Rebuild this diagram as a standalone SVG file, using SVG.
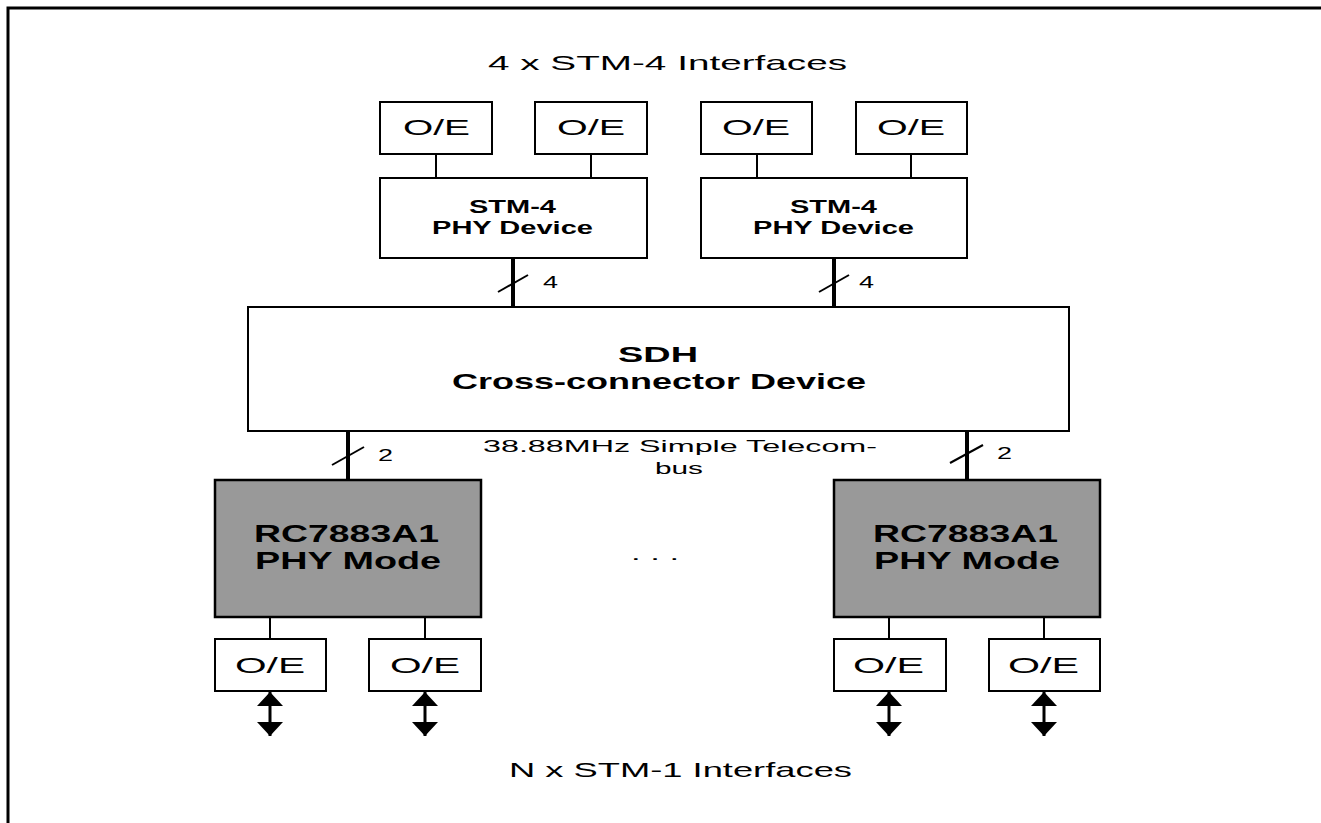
<svg xmlns="http://www.w3.org/2000/svg" width="1321" height="823" viewBox="0 0 1321 823">
<style>
text{font-family:"Liberation Sans",Arial,sans-serif;fill:#000}
.box{fill:#fff;stroke:#000;stroke-width:2}
.chip{fill:#999;stroke:#000;stroke-width:2.5}
.oe{font-size:22px}
.b{font-weight:bold}
.conn{stroke:#000;stroke-width:2;fill:none}
.bus{stroke:#000;stroke-width:4;fill:none}
.lbl{font-size:16px}
.io{stroke:#000;stroke-width:3;fill:none;marker-start:url(#ah);marker-end:url(#ah)}
</style>
<defs>
<marker id="ah" markerUnits="userSpaceOnUse" markerWidth="14" markerHeight="26" viewBox="0 0 14 26" refX="14" refY="13" orient="auto-start-reverse">
<path d="M0,0 L14,13 L0,26 z" fill="#000"/>
</marker>
</defs>
<rect width="1321" height="823" fill="#fff"/>
<path d="M8,823 V8 H1321" fill="none" stroke="#000" stroke-width="3"/>

<text x="488" y="70" font-size="21" textLength="359" lengthAdjust="spacingAndGlyphs">4 x STM-4 Interfaces</text>
<text x="509" y="777" font-size="21" textLength="343" lengthAdjust="spacingAndGlyphs">N x STM-1 Interfaces</text>

<g id="connectors">
<line class="conn" x1="436" y1="154" x2="436" y2="178"/>
<line class="conn" x1="591" y1="154" x2="591" y2="178"/>
<line class="conn" x1="757" y1="154" x2="757" y2="178"/>
<line class="conn" x1="911" y1="154" x2="911" y2="178"/>
<line class="bus" x1="513" y1="258" x2="513" y2="307"/>
<line class="conn" x1="498" y1="292" x2="528" y2="275"/>
<text class="lbl" x="543" y="288" textLength="15" lengthAdjust="spacingAndGlyphs">4</text>
<line class="bus" x1="834" y1="258" x2="834" y2="307"/>
<line class="conn" x1="819" y1="292" x2="849" y2="275"/>
<text class="lbl" x="859" y="288" textLength="15" lengthAdjust="spacingAndGlyphs">4</text>
<line class="bus" x1="348" y1="431" x2="348" y2="480"/>
<line class="conn" x1="332" y1="465" x2="364" y2="447"/>
<text class="lbl" x="378" y="461" textLength="15" lengthAdjust="spacingAndGlyphs">2</text>
<line class="bus" x1="967" y1="431" x2="967" y2="480"/>
<line class="conn" x1="950" y1="463" x2="983" y2="445"/>
<text class="lbl" x="997" y="459" textLength="15" lengthAdjust="spacingAndGlyphs">2</text>
<text x="483" y="452" font-size="17" textLength="394" lengthAdjust="spacingAndGlyphs">38.88MHz  Simple Telecom-</text>
<text x="655" y="474" font-size="17" textLength="48" lengthAdjust="spacingAndGlyphs">bus</text>
<line class="conn" x1="270" y1="617" x2="270" y2="639"/>
<line class="conn" x1="425" y1="617" x2="425" y2="639"/>
<line class="conn" x1="889" y1="617" x2="889" y2="639"/>
<line class="conn" x1="1044" y1="617" x2="1044" y2="639"/>
<line class="io" x1="270" y1="692" x2="270" y2="736"/>
<line class="io" x1="425" y1="692" x2="425" y2="736"/>
<line class="io" x1="889" y1="692" x2="889" y2="736"/>
<line class="io" x1="1044" y1="692" x2="1044" y2="736"/>
</g>

<g id="oe-top-1"><rect class="box" x="380" y="102" width="112" height="52"/><text class="oe" x="403" y="135" textLength="67" lengthAdjust="spacingAndGlyphs">O/E</text></g>
<g id="oe-top-2"><rect class="box" x="535" y="102" width="112" height="52"/><text class="oe" x="557" y="135" textLength="68" lengthAdjust="spacingAndGlyphs">O/E</text></g>
<g id="oe-top-3"><rect class="box" x="701" y="102" width="111" height="52"/><text class="oe" x="722" y="135" textLength="68" lengthAdjust="spacingAndGlyphs">O/E</text></g>
<g id="oe-top-4"><rect class="box" x="856" y="102" width="111" height="52"/><text class="oe" x="877" y="135" textLength="68" lengthAdjust="spacingAndGlyphs">O/E</text></g>

<g id="stm4-phy-1"><rect class="box" x="380" y="178" width="267" height="80"/>
<text class="b" x="469" y="213" font-size="18.5" textLength="87" lengthAdjust="spacingAndGlyphs">STM-4</text>
<text class="b" x="432" y="234" font-size="18.5" textLength="161" lengthAdjust="spacingAndGlyphs">PHY Device</text></g>
<g id="stm4-phy-2"><rect class="box" x="701" y="178" width="266" height="80"/>
<text class="b" x="790" y="213" font-size="18.5" textLength="87" lengthAdjust="spacingAndGlyphs">STM-4</text>
<text class="b" x="753" y="234" font-size="18.5" textLength="161" lengthAdjust="spacingAndGlyphs">PHY Device</text></g>

<g id="sdh"><rect class="box" x="248" y="307" width="821" height="124"/>
<text class="b" x="618" y="362" font-size="22" textLength="80" lengthAdjust="spacingAndGlyphs">SDH</text>
<text class="b" x="452" y="389" font-size="22" textLength="414" lengthAdjust="spacingAndGlyphs">Cross-connector Device</text></g>

<g id="rc-1"><rect class="chip" x="215" y="480" width="266" height="137"/>
<text class="b" x="254" y="542" font-size="23.5" textLength="185" lengthAdjust="spacingAndGlyphs">RC7883A1</text>
<text class="b" x="255" y="569" font-size="23.5" textLength="186" lengthAdjust="spacingAndGlyphs">PHY Mode</text></g>
<g id="rc-2"><rect class="chip" x="834" y="480" width="266" height="137"/>
<text class="b" x="873" y="542" font-size="23.5" textLength="185" lengthAdjust="spacingAndGlyphs">RC7883A1</text>
<text class="b" x="874" y="569" font-size="23.5" textLength="186" lengthAdjust="spacingAndGlyphs">PHY Mode</text></g>

<text x="631" y="560" font-size="17" textLength="48" lengthAdjust="spacingAndGlyphs">. . .</text>

<g id="oe-bot-1"><rect class="box" x="215" y="639" width="111" height="52"/><text class="oe" x="235" y="673" textLength="70" lengthAdjust="spacingAndGlyphs">O/E</text></g>
<g id="oe-bot-2"><rect class="box" x="369" y="639" width="112" height="52"/><text class="oe" x="390" y="673" textLength="70" lengthAdjust="spacingAndGlyphs">O/E</text></g>
<g id="oe-bot-3"><rect class="box" x="834" y="639" width="112" height="52"/><text class="oe" x="853" y="673" textLength="71" lengthAdjust="spacingAndGlyphs">O/E</text></g>
<g id="oe-bot-4"><rect class="box" x="989" y="639" width="111" height="52"/><text class="oe" x="1008" y="673" textLength="71" lengthAdjust="spacingAndGlyphs">O/E</text></g>
</svg>
